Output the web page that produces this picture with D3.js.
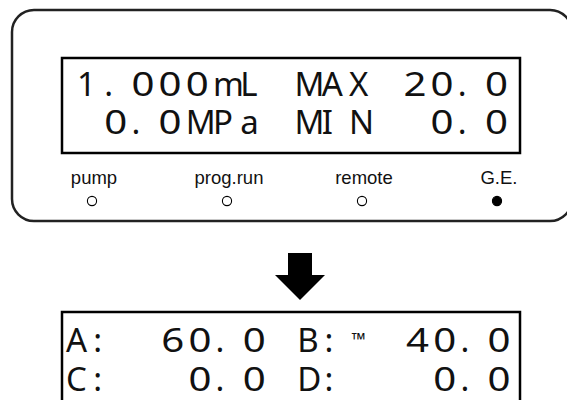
<!DOCTYPE html>
<html><head><meta charset="utf-8">
<script src="https://cdn.jsdelivr.net/npm/d3@7"></script>
<style>html,body{margin:0;padding:0;background:#fff;overflow:hidden;}</style>
</head><body><svg id="c" width="567" height="400"></svg>
<script>
// ---- data ----
const topRows = ["1.000mL MAX 20.0", " 0.0MPa MIN  0.0"];
const indicatorLabels = ["pump", "prog.run", "remote", "G.E."];
const indicatorOn = [false, false, false, true];
const bottomLabels = ["A:", "B:", "C:", "D:"];
const bottomValues = [60.0, 40.0, 0.0, 0.0];
const bottomMark = ["", "\u2122", "", ""];

// ---- drawing ----
const svg = d3.select("#c");
const lcdFont = "'Noto Sans', 'DejaVu Sans', sans-serif";
const fs = 33;
const wide = /[02-9]/;   // round, wide LCD-style digits

// one <text> per word, one <tspan> per character cell
function lcdWord(word, col, y, colScale, size) {
  const t = svg.append("text").attr("y", y)
    .attr("font-family", lcdFont).attr("font-size", size || fs).attr("fill", "#111");
  t.selectAll("tspan").data(word.split("")).join("tspan")
    .attr("x", (d, i) => colScale(col + i))
    .text(d => d)
    .filter(d => wide.test(d) && !size)
    .attr("textLength", 23).attr("lengthAdjust", "spacingAndGlyphs");
}
function words(row) {
  const out = []; const re = /\S+/g; let m;
  while ((m = re.exec(row))) out.push({w: m[0], col: m.index});
  return out;
}

// outer panel
svg.append("rect").attr("x", 12).attr("y", 10).attr("width", 560).attr("height", 211)
  .attr("rx", 22).attr("fill", "none").attr("stroke", "#222").attr("stroke-width", 2.5);

// top display box
svg.append("rect").attr("x", 62).attr("y", 58).attr("width", 458).attr("height", 95)
  .attr("fill", "none").attr("stroke", "#000").attr("stroke-width", 2.5);

const colTop = d3.scaleLinear().domain([0, 1]).range([77, 104.2]);
const rowTop = d3.scaleLinear().domain([0, 1]).range([96, 134]);
topRows.forEach((row, r) => words(row).forEach(d => lcdWord(d.w, d.col, rowTop(r), colTop)));

// indicators
const xInd = d3.scalePoint().domain(indicatorLabels).range([92, 497]);
svg.append("g").selectAll("text").data(indicatorLabels).join("text")
  .attr("x", d => xInd(d) + 2).attr("y", 184).attr("text-anchor", "middle")
  .attr("font-family", "'Liberation Sans', Arial, sans-serif").attr("font-size", 18.5)
  .attr("fill", "#111").text(d => d);
svg.append("g").selectAll("circle").data(indicatorLabels).join("circle")
  .attr("cx", d => xInd(d)).attr("cy", 201).attr("r", 4.6)
  .attr("fill", (d, i) => indicatorOn[i] ? "#000" : "#fff")
  .attr("stroke", "#000").attr("stroke-width", 1.1);

// arrow
const ax = 300;
svg.append("path")
  .attr("d", `M${ax-12},253 L${ax+12},253 L${ax+12},275 L${ax+25},275 L${ax},300 L${ax-25},275 L${ax-12},275 Z`)
  .attr("fill", "#000");

// bottom display box
svg.append("rect").attr("x", 62).attr("y", 312).attr("width", 458).attr("height", 100)
  .attr("fill", "none").attr("stroke", "#000").attr("stroke-width", 2.5);

const colBot = d3.scaleLinear().domain([0, 1]).range([66, 93.2]);
const rowBot = d3.scaleLinear().domain([0, 1]).range([352, 391]);
const fmt = d3.format(".1f");

bottomLabels.forEach((lab, k) => {
  const r = Math.floor(k / 2), half = k % 2;
  const labStart = half ? 8.5 : 0;
  lcdWord(lab, labStart, rowBot(r), colBot);
  if (bottomMark[k]) lcdWord(bottomMark[k], labStart + 2, rowBot(r) - 6, colBot, 18);
  const v = fmt(bottomValues[k]);
  const endCol = half ? 15.5 : 6.5;
  lcdWord(v, endCol - (v.length - 1), rowBot(r), colBot);
});
</script>
</body></html>
